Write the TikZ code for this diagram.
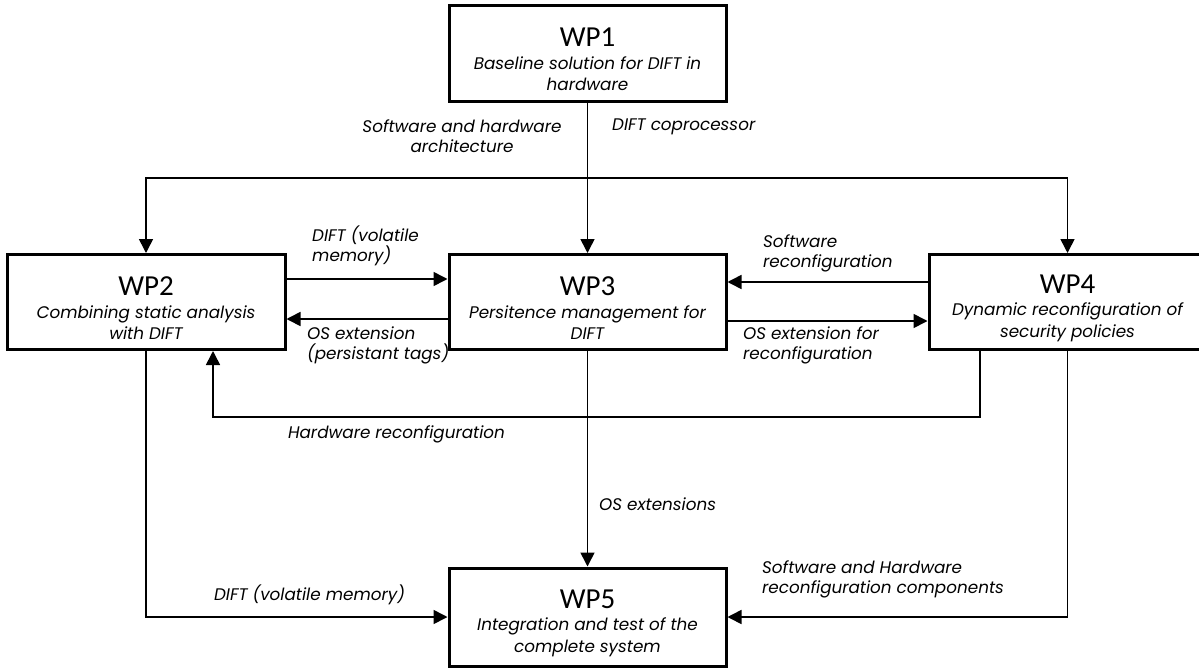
\documentclass[tikz,border=0pt]{standalone}
\usepackage{fontspec}
\usetikzlibrary{arrows.meta}
\newfontfamily\labfont{Poppins}
\newfontfamily\ttlfont{Carlito}
\tikzset{
  wp/.style={draw, line width=3pt, minimum width=277pt, minimum height=95pt, inner sep=0pt, align=center, fill=white, font=\labfont\itshape\fontsize{16.8}{21.5}\selectfont},
  arr/.style={line width=1.6pt, -{Triangle[length=14pt,width=14pt]}},
  lab/.style={inner sep=0pt, font=\labfont\itshape\fontsize{16.8}{20}\selectfont},
}
\newcommand{\wptitle}[1]{{\ttlfont\upshape\fontsize{29}{29}\selectfont\rule{0pt}{31pt}#1}}
\begin{document}
\begin{tikzpicture}[x=1pt,y=-1pt]
\useasboundingbox[fill=white] (0,0) rectangle (1199,669);
% boxes
\node[wp] (wp1) at (587.5,53.5) {\wptitle{WP1}\\[1pt]Baseline solution for DIFT in\\hardware};
\node[wp, minimum width=278pt] (wp2) at (146,302) {\wptitle{WP2}\\[1pt]Combining static analysis\\with DIFT};
\node[wp] (wp3) at (587.5,302) {\wptitle{WP3}\\[1pt]Persitence management for\\DIFT};
\node[wp] (wp4) at (1067.5,302) {\wptitle{WP4}\\[1pt]Dynamic reconfiguration of\\security policies};
\node[wp, minimum height=98pt] (wp5) at (587.5,617) {\wptitle{WP5}\\[1pt]Integration and test of the\\complete system};
% connectors
\coordinate (junc) at (587.5,178);
\draw[arr] (wp1.south) -- (wp3.north);
\draw[arr] (junc) -| (wp2.north);
\draw[arr] (junc) -| (wp4.north);
\draw[arr] ([yshift=23pt]wp2.east) -- ([yshift=23pt]wp3.west);
\draw[arr] ([yshift=-17pt]wp3.west) -- ([yshift=-17pt]wp2.east);
\draw[arr] ([yshift=20pt]wp4.west) -- ([yshift=20pt]wp3.east);
\draw[arr] ([yshift=-19pt]wp3.east) -- ([yshift=-19pt]wp4.west);
\coordinate (hw) at (980,417);
\draw[arr] ([xshift=-87.5pt]wp4.south) -- (hw) -| ([xshift=67pt]wp2.south);
\draw[arr] (wp3.south) -- (wp5.north);
\draw[arr] (wp2.south) |- (wp5.west);
\draw[arr] (wp4.south) |- (wp5.east);
% labels
\node[lab, align=center] (l1) at (462,136) {Software and hardware\\architecture};
\node[lab, anchor=west] (l2) at (612,127) {DIFT coprocessor};
\node[lab, align=left, anchor=west] (l3) at (312,246) {DIFT (volatile\\memory)};
\node[lab, align=left, anchor=west] (l4) at (307,345) {OS extension\\(persistant tags)};
\node[lab, align=left, anchor=west] (l5) at (763,253) {Software\\reconfiguration};
\node[lab, align=left, anchor=west] (l6) at (743,345) {OS extension for\\reconfiguration};
\node[lab] (l7) at (396.5,434) {Hardware reconfiguration};
\node[lab, anchor=west] (l8) at (599,504) {OS extensions};
\node[lab] (l9) at (309.5,595) {DIFT (volatile memory)};
\node[lab, align=left, anchor=west] (l10) at (762,579) {Software and Hardware\\reconfiguration components};
\end{tikzpicture}
\end{document}
